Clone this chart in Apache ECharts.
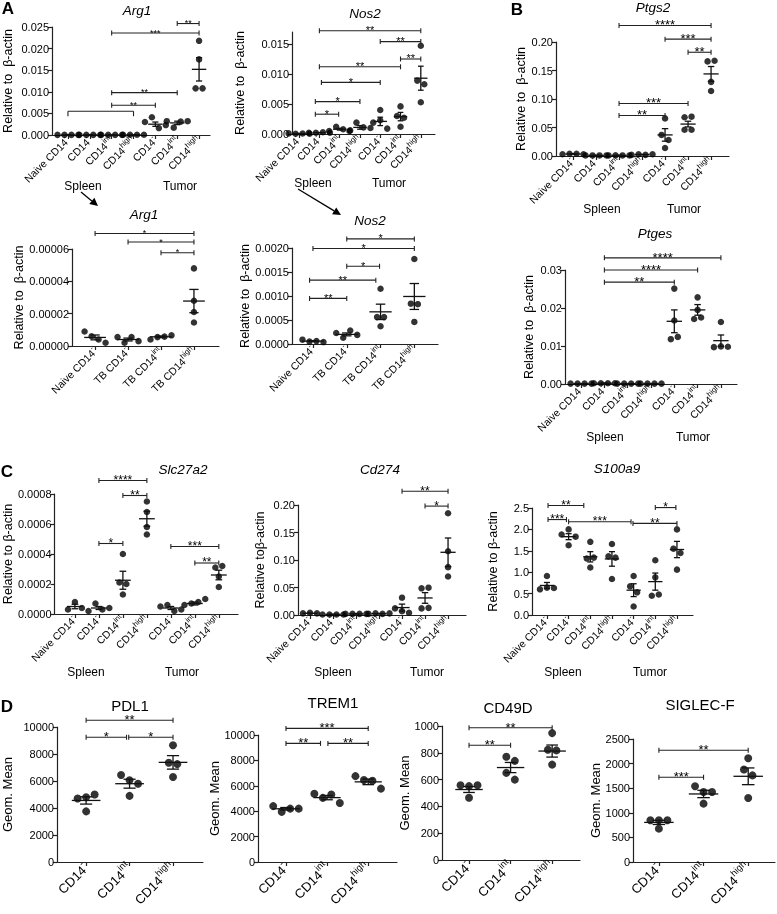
<!DOCTYPE html>
<html><head><meta charset="utf-8">
<script src="https://cdn.jsdelivr.net/npm/echarts@6/dist/echarts.min.js"></script>
<style>html,body{margin:0;padding:0;background:#fff}#c{width:777px;height:914px;filter:grayscale(1)}</style>
</head><body><div id="c"></div>
<script>
// ---------------- DATA ----------------
const spleenTumorLabels = [['Naive CD14','-'],['CD14','-'],['CD14','int'],['CD14','high'],['CD14','-'],['CD14','int'],['CD14','high']];
const tbLabels = [['Naive CD14','-'],['TB CD14','-'],['TB CD14','int'],['TB CD14','high']];
const cd14Labels = [['CD14','-'],['CD14','int'],['CD14','high']];
const groupNames = ['Spleen','Tumor'];

// Arg1 (A, top)
const arg1Points = [[0.00003,0.00003,0.00003,0.00003],[0.00003,0.00003,0.00003,0.00003],[0.00003,0.00003,0.00003,0.00003],[0.00005,0.00005,0.00005,0.00005],[0.0030,0.0041,0.0016,0.0023],[0.0032,0.0017,0.0031,0.0032],[0.0218,0.0175,0.0108,0.0108]];
const arg1Mean = [0.00003,0.00003,0.00003,0.00005,0.0025,0.0028,0.0152];
const arg1Sem = [0,0,0,0,0.0005,0.0004,0.0027];
const arg1Sig = [[5,6,0.0258,'**'],[2,6,0.0236,'***'],[2,5,0.0098,'**'],[2,4,0.0069,'**'],[0,3,0.0055,'']];

// Nos2 (A, top)
const nos2Points = [[0.0001,0.00005,0.00008,0.00005],[0.0002,0.0002,0.0003,0.0002],[0.0005,0.0012,0.0008,0.0006],[0.0005,0.0019,0.0011,0.0010],[0.0019,0.0040,0.0023,0.0009],[0.0030,0.0046,0.0027,0.0012],[0.0147,0.0089,0.0083,0.0053]];
const nos2Mean = [0.00007,0.00022,0.0008,0.0011,0.0021,0.0029,0.0093];
const nos2Sem = [0.00001,0.00002,0.00015,0.0003,0.0007,0.0007,0.0020];
const nos2Sig = [[1,6,0.0172,'**'],[4,6,0.0154,'**'],[5,6,0.0125,'**'],[1,5,0.0112,'**'],[1.1,4,0.0086,'*'],[0.8,3,0.0054,'*'],[0.8,1.95,0.0033,'*']];

// Ptgs2 (B, top)
const ptgs2Points = [[0.003,0.004,0.004,0.003],[0.001,0.001,0.001,0.001],[0.001,0.0012,0.001,0.001],[0.002,0.003,0.002,0.003],[0.066,0.037,0.028,0.014],[0.068,0.046,0.046,0.069],[0.166,0.167,0.130,0.114]];
const ptgs2Mean = [0.0035,0.001,0.001,0.0025,0.037,0.056,0.144];
const ptgs2Sem = [0.0003,0.0001,0.0001,0.0003,0.011,0.005,0.013];
const ptgs2Sig = [[2,6,0.229,'****'],[4,6,0.205,'***'],[5,6,0.182,'**'],[2,5,0.092,'***'],[2,4,0.071,'**']];

// Arg1 (A, bottom)
const arg1bPoints = [[0.000009,0.000006,0.000004,0.000002],[0.0000055,0.000002,0.0000055,0.000003],[0.000004,0.0000055,0.0000058,0.0000066],[0.000048,0.000028,0.000021,0.0000145]];
const arg1bMean = [0.0000053,0.000004,0.0000057,0.0000278];
const arg1bSem = [0.0000015,0.0000009,0.0000005,0.0000072];
const arg1bSig = [[0,3,0.0000696,'*'],[1,3,0.0000643,'*'],[2,3,0.0000577,'*']];

// Nos2 (A, bottom)
const nos2bPoints = [[0.00009,0.00005,0.00006,0.00004],[0.00023,0.00013,0.00028,0.00019],[0.00115,0.00056,0.00056,0.00037],[0.00177,0.00084,0.00083,0.00046]];
const nos2bMean = [0.00006,0.0002,0.00067,0.00099];
const nos2bSem = [0.00001,0.00003,0.00016,0.00027];
const nos2bSig = [[1,3,0.00219,'*'],[0,3,0.00199,'*'],[1,1.97,0.00162,'*'],[-0.1,1.86,0.00133,'**'],[-0.1,1,0.00095,'**']];

// Ptges (B, bottom)
const ptgesPoints = [[0.0001,0.0001,0.0001,0.0001],[0.0002,0.0002,0.0002,0.0002],[0.0001,0.0001,0.0001,0.0001],[0.0001,0.0001,0.0001,0.0001],[0.0251,0.0167,0.0118,0.0124],[0.0171,0.0228,0.0195,0.0175],[0.0163,0.0097,0.0099,0.0098]];
const ptgesMean = [0.0001,0.0002,0.0001,0.0001,0.0165,0.0195,0.0114];
const ptgesSem = [0,0,0,0,0.0030,0.0014,0.0015];
const ptgesSig = [[1,6,0.0332,'****'],[1,5,0.0300,'****'],[1,4,0.0268,'**']];

// Slc27a2 (C)
const slcPoints = [[0.00003,0.00008,0.00004],[0.00002,0.00007,0.00003,0.00004],[0.00040,0.00021,0.00020,0.00013],[0.00075,0.00068,0.00058,0.00053],[0.00005,0.00006,0.00002,0.00003],[0.00006,0.00007,0.00008,0.00010],[0.00031,0.00032,0.00025,0.00018]];
const slcMean = [0.00005,0.00004,0.000225,0.000635,0.00004,0.00007,0.00026];
const slcSem = [0.000015,0.00001,0.00006,0.00005,0.00001,0.00001,0.000032];
const slcSig = [[1,3,0.00089,'****'],[2,3,0.00079,'**'],[1,2,0.00047,'*'],[4,6,0.00045,'***'],[5,6,0.00034,'**']];

// Cd274 (C)
const cd274Points = [[0.003,0.004,0.003],[0.001,0.001,0.001,0.001],[0.002,0.002,0.002,0.002],[0.002,0.003,0.002,0.003],[0.0315,0.012,0.007,0.004],[0.0485,0.0497,0.012,0.013],[0.185,0.116,0.087,0.070]];
const cd274Mean = [0.003,0.001,0.002,0.0025,0.0135,0.031,0.114];
const cd274Sem = [0.0003,0,0.0001,0.0002,0.0063,0.0097,0.026];
const cd274Sig = [[4,6,0.225,'**'],[5,6,0.198,'*']];

// S100a9 (C)
const s100Points = [[0.60,0.91,0.64,0.63],[1.88,2.00,1.63,1.83],[1.71,1.32,1.34,1.11],[1.66,1.37,1.34,0.84],[0.91,0.67,0.53,0.20],[1.28,0.45,0.48,0.88],[2.00,1.55,1.45,1.06]];
const s100Mean = [0.69,1.83,1.36,1.31,0.58,0.78,1.53];
const s100Sem = [0.07,0.07,0.12,0.17,0.15,0.20,0.19];
const s100Sig = [[0.05,1.7,2.56,'**'],[0.05,0.9,2.23,'***'],[1,3.88,2.18,'***'],[3.97,6,2.14,'**'],[5,5.95,2.51,'*']];

// D panels
const pdl1Points = [[4700,4800,5000,3750],[6450,6050,5800,4900],[8650,7350,7250,6300]];
const pdl1Mean = [4560,5800,7380];
const pdl1Sem = [270,330,500];
const pdl1Sig = [[0,2,10500,'**'],[0,0.93,9240,'*'],[0.98,2,9240,'*']];

const trem1Points = [[4400,3950,4200,4200],[5370,5050,5310,4650],[6760,6450,6400,5780]];
const trem1Mean = [4190,5070,6310];
const trem1Sem = [100,170,220];
const trem1Sig = [[0,2,10520,'***'],[0,0.84,9340,'**'],[1.02,2,9340,'**']];

const cd49Points = [[558,551,558,464],[770,740,650,600],[947,823,818,712]];
const cd49Mean = [526,690,813];
const cd49Sem = [22,38,45];
const cd49Sig = [[0,2,987,'**'],[0,1,856,'**']];

const siglecPoints = [[847,847,847,678],[1539,1424,1424,1186],[2110,1880,1760,1300]];
const siglecMean = [805,1383,1742];
const siglecSem = [42,75,170];
const siglecSig = [[0,2,2271,'**'],[0,1,1722,'***']];

const relName = 'Relative to  \u03B2-actin';
const charts = [
  {key:'arg1', title:'Arg1', italic:true, labels:spleenTumorLabels, points:arg1Points, mean:arg1Mean, sem:arg1Sem, sig:arg1Sig, yMax:0.025, yStep:0.005, yDec:3, yName:relName},
  {key:'nos2', title:'Nos2', italic:true, labels:spleenTumorLabels, points:nos2Points, mean:nos2Mean, sem:nos2Sem, sig:nos2Sig, yMax:0.017, yStep:0.005, yDec:3, yName:relName},
  {key:'ptgs2', title:'Ptgs2', italic:true, labels:spleenTumorLabels, points:ptgs2Points, mean:ptgs2Mean, sem:ptgs2Sem, sig:ptgs2Sig, yMax:0.20, yStep:0.05, yDec:2, yName:relName},
  {key:'arg1b', title:'Arg1', italic:true, labels:tbLabels, points:arg1bPoints, mean:arg1bMean, sem:arg1bSem, sig:arg1bSig, yMax:0.00006, yStep:0.00002, yDec:5, yName:relName},
  {key:'nos2b', title:'Nos2', italic:true, labels:tbLabels, points:nos2bPoints, mean:nos2bMean, sem:nos2bSem, sig:nos2bSig, yMax:0.002, yStep:0.0005, yDec:4, yName:relName},
  {key:'ptges', title:'Ptges', italic:true, labels:spleenTumorLabels, points:ptgesPoints, mean:ptgesMean, sem:ptgesSem, sig:ptgesSig, yMax:0.03, yStep:0.01, yDec:2, yName:relName},
  {key:'slc', title:'Slc27a2', italic:true, labels:spleenTumorLabels, points:slcPoints, mean:slcMean, sem:slcSem, sig:slcSig, yMax:0.0008, yStep:0.0002, yDec:4, yName:'Relative to \u03B2-actin'},
  {key:'cd274', title:'Cd274', italic:true, labels:spleenTumorLabels, points:cd274Points, mean:cd274Mean, sem:cd274Sem, sig:cd274Sig, yMax:0.20, yStep:0.05, yDec:2, yName:'Relative to\u03B2-actin'},
  {key:'s100', title:'S100a9', italic:true, labels:spleenTumorLabels, points:s100Points, mean:s100Mean, sem:s100Sem, sig:s100Sig, yMax:2.5, yStep:0.5, yDec:1, yName:'Relative to \u03B2-actin'},
  {key:'pdl1', title:'PDL1', italic:false, labels:cd14Labels, points:pdl1Points, mean:pdl1Mean, sem:pdl1Sem, sig:pdl1Sig, yMax:10000, yStep:2000, yDec:0, yName:'Geom. Mean'},
  {key:'trem1', title:'TREM1', italic:false, labels:cd14Labels, points:trem1Points, mean:trem1Mean, sem:trem1Sem, sig:trem1Sig, yMax:10000, yStep:2000, yDec:0, yName:'Geom. Mean'},
  {key:'cd49', title:'CD49D', italic:false, labels:cd14Labels, points:cd49Points, mean:cd49Mean, sem:cd49Sem, sig:cd49Sig, yMax:1000, yStep:200, yDec:0, yName:'Geom. Mean'},
  {key:'siglec', title:'SIGLEC-F', italic:false, labels:cd14Labels, points:siglecPoints, mean:siglecMean, sem:siglecSem, sig:siglecSig, yMax:2500, yStep:500, yDec:0, yName:'Geom. Mean'}
];

// ---------------- LAYOUT ----------------
const layout = {
  arg1:  {rect:[51,27,210,135],  xr:[-0.73,6.5],  title:[137,10], gap:38, groups:[[83,186],[180,186]], xfs:10.5, sfs:9,  dot:6.5},
  nos2:  {rect:[292,32,435,134], xr:[-0.35,6.7],  title:[365,13], gap:46, groups:[[313,183],[389,183]], xfs:10.5, sfs:11, dot:6.5},
  ptgs2: {rect:[556,42,729,156], xr:[-0.74,6.78], title:[653,7],  gap:28, groups:[[602,209],[684,209]], xfs:10.5, sfs:13, dot:6.5},
  arg1b: {rect:[72,249,219,346], xr:[-0.7,3.76],  title:[144,214], gap:45, groups:null, xfs:10.5, sfs:9, dot:6.5},
  nos2b: {rect:[292,248,438,344], xr:[-0.62,3.7], title:[370,220], gap:41, groups:null, xfs:10.5, sfs:11, dot:6.5},
  ptges: {rect:[565,270,737,384], xr:[-0.69,6.69], title:[655,233], gap:30, groups:[[605,437],[693,437]], xfs:10.5, sfs:13, dot:6.5},
  slc:   {rect:[53,494,238,614],  xr:[-0.85,6.8],  title:[183,469], gap:40, groups:[[86,672],[182,672]], xfs:10.5, sfs:12, dot:6.5},
  cd274: {rect:[298,505,466,615], xr:[-0.52,6.78], title:[380,469], gap:32, groups:[[333,672],[427,672]], xfs:10.5, sfs:12, dot:6.5},
  s100:  {rect:[532,508,693,615], xr:[-0.69,6.74], title:[617,468], gap:33, groups:[[563,672],[650,672]], xfs:10.5, sfs:12, dot:6.5},
  pdl1:  {rect:[57,727,203,862],  xr:[-0.67,2.69], title:[130,705], gap:43, groups:null, xfs:13, sfs:13, dot:8},
  trem1: {rect:[258,735,397,862], xr:[-0.68,2.7],  title:[333,702], gap:36, groups:null, xfs:13, sfs:13, dot:8},
  cd49:  {rect:[442,726,580,860], xr:[-0.65,2.67], title:[508,707], gap:27, groups:null, xfs:13, sfs:13, dot:8},
  siglec:{rect:[633,739,775,862], xr:[-0.58,2.6],  title:[700,704], gap:30, groups:null, xfs:13, sfs:13, dot:8}
};
const FONT = '"Liberation Sans", Arial, Helvetica, sans-serif';
const AX = '#222';

function swarm(vals, thr, step) {
  const order = vals.map((v,i)=>i).sort((a,b)=>vals[a]-vals[b]);
  const off = new Array(vals.length).fill(0);
  let cl = [order[0]];
  const flush = () => { const k = cl.length; cl.slice().sort((a,b)=>a-b).forEach((id,j)=>{ off[id] = (j-(k-1)/2)*step; }); };
  for (let q=1;q<order.length;q++){ const id=order[q]; if (vals[id]-vals[cl[cl.length-1]] < thr) cl.push(id); else { flush(); cl=[id]; } }
  flush();
  return off;
}

const grids=[], xAxes=[], yAxes=[], series=[], graphics=[];
charts.forEach((c,k)=>{
  const L = layout[c.key];
  const [x0,yT,x1,yB] = L.rect;
  grids.push({left:x0, top:yT, width:x1-x0, height:yB-yT});
  const n = c.labels.length;
  const idx = Array.from({length:n},(_,i)=>i);
  const isD = L.xfs > 12;
  xAxes.push({gridIndex:k, type:'value', min:L.xr[0], max:L.xr[1],
    axisLine:{show:true,onZero:false,lineStyle:{color:AX,width:1.2}},
    axisTick:{show:true,customValues:idx,length:4,lineStyle:{color:AX,width:1.2}},
    axisLabel:{customValues:idx, rotate:45, margin:4, color:'#000', fontFamily:FONT, fontSize:L.xfs,
      formatter:v=>{const l=c.labels[Math.round(v)]; return l ? '{b|'+l[0]+'}{s|'+l[1]+'}' : '';},
      rich:{b:{fontSize:L.xfs,fontFamily:FONT,color:'#000',lineHeight:L.xfs*1.5},
            s:{fontSize:L.xfs*0.72,fontFamily:FONT,color:'#000',verticalAlign:'top',lineHeight:L.xfs*0.8}}},
    splitLine:{show:false}});
  const ticks=[]; for(let i=0;i*c.yStep<=c.yMax*(1+1e-9);i++) ticks.push(+(i*c.yStep).toFixed(10));
  yAxes.push({gridIndex:k, type:'value', min:0, max:c.yMax,
    axisLine:{show:true,onZero:false,lineStyle:{color:AX,width:1.2}},
    axisTick:{show:true,customValues:ticks,length:4,lineStyle:{color:AX,width:1.2}},
    axisLabel:{customValues:ticks, formatter:v=>v.toFixed(c.yDec), color:'#000', fontFamily:FONT, fontSize:11, margin:3},
    splitLine:{show:false},
    name:c.yName, nameLocation:'middle', nameGap:L.gap,
    nameTextStyle:{fontSize:isD?13:12.5, color:'#000', fontFamily:FONT}});

  const unitPx = (x1-x0)/(L.xr[1]-L.xr[0]);
  const hPx = yB-yT;
  const pts=[];
  c.points.forEach((arr,g)=>{
    const off = swarm(arr, c.yMax*L.dot/hPx, (L.dot+0.5)/unitPx);
    arr.forEach((v,i)=>pts.push([g+off[i], v]));
  });
  series.push({type:'scatter', xAxisIndex:k, yAxisIndex:k, data:pts, symbol:'circle', symbolSize:L.dot,
    itemStyle:{color:'#000'}, silent:true, z:2, clip:false});
  series.push({type:'custom', xAxisIndex:k, yAxisIndex:k, silent:true, z:3, clip:false,
    itemStyle:{color:'#000'},
    data:c.mean.map((m,g)=>[g,m,c.sem[g]]),
    renderItem:(params,api)=>{
      const g=api.value(0), m=api.value(1), s=api.value(2);
      const p=api.coord([g,m]);
      const hw=api.size([0.33,0])[0], cw=api.size([0.14,0])[0];
      const top=api.coord([g,m+s])[1], bot=api.coord([g,m-s])[1];
      const st={stroke:'#111',lineWidth:1.3,fill:null};
      return {type:'group',children:[
        {type:'line',shape:{x1:p[0]-hw,y1:p[1],x2:p[0]+hw,y2:p[1]},style:st},
        {type:'line',shape:{x1:p[0],y1:top,x2:p[0],y2:bot},style:st},
        {type:'line',shape:{x1:p[0]-cw,y1:top,x2:p[0]+cw,y2:top},style:st},
        {type:'line',shape:{x1:p[0]-cw,y1:bot,x2:p[0]+cw,y2:bot},style:st}]};
    }});
  series.push({type:'custom', xAxisIndex:k, yAxisIndex:k, silent:true, z:4, clip:false,
    itemStyle:{color:'#000'},
    data:c.sig.map(s=>[s[0],s[2],s[1]]),
    renderItem:(params,api)=>{
      const s=c.sig[params.dataIndex];
      const a=api.coord([s[0],s[2]]), b=api.coord([s[1],s[2]]);
      const y=a[1]; const st={stroke:'#222',lineWidth:1.1,fill:null};
      const ch=[{type:'line',shape:{x1:a[0],y1:y,x2:b[0],y2:y},style:st}];
      if (s[3]) {
        ch.push({type:'line',shape:{x1:a[0],y1:y-2.5,x2:a[0],y2:y+2.5},style:st});
        ch.push({type:'line',shape:{x1:b[0],y1:y-2.5,x2:b[0],y2:y+2.5},style:st});
        ch.push({type:'text',x:(a[0]+b[0])/2,y:y+L.sfs*0.45,style:{text:s[3],font:L.sfs+'px '+FONT,fill:'#000',
          align:'center',verticalAlign:'bottom'}});
      } else {
        ch.push({type:'line',shape:{x1:a[0],y1:y,x2:a[0],y2:y+5},style:st});
        ch.push({type:'line',shape:{x1:b[0],y1:y,x2:b[0],y2:y+5},style:st});
      }
      return {type:'group',children:ch};
    }});

  graphics.push({type:'text', x:L.title[0], y:L.title[1], style:{text:c.title, fill:'#000',
    font:(c.italic?'italic ':'')+(isD?'15px ':'13.5px ')+FONT, align:'center', verticalAlign:'middle'}});
  if (L.groups) L.groups.forEach((gp,i)=>graphics.push({type:'text', x:gp[0], y:gp[1], style:{text:groupNames[i], fill:'#000',
    font:'12px '+FONT, align:'center', verticalAlign:'middle'}}));
});

// panel letters
[['A',8,8],['B',517,9],['C',7,471],['D',7,706]].forEach(l=>graphics.push({type:'text',x:l[1],y:l[2],style:{text:l[0],fill:'#000',
  font:'bold 17px '+FONT,align:'center',verticalAlign:'middle'}}));
// arrows
[[[81,192],[98,206]],[[298,189],[341,215]]].forEach(([p,q])=>{
  const dx=q[0]-p[0], dy=q[1]-p[1], len=Math.hypot(dx,dy), ux=dx/len, uy=dy/len, h=8, w=4;
  const bx=q[0]-ux*h, by=q[1]-uy*h;
  graphics.push({type:'line',shape:{x1:p[0],y1:p[1],x2:bx,y2:by},style:{stroke:'#000',lineWidth:1.3}});
  graphics.push({type:'polygon',shape:{points:[[q[0],q[1]],[bx-uy*w,by+ux*w],[bx+uy*w,by-ux*w]]},style:{fill:'#000'}});
});

const chart = echarts.init(document.getElementById('c'), null, {renderer:'svg'});
chart.setOption({animation:false, backgroundColor:'#fff', textStyle:{fontFamily:FONT},
  grid:grids, xAxis:xAxes, yAxis:yAxes, series:series, graphic:graphics});
</script></body></html>
